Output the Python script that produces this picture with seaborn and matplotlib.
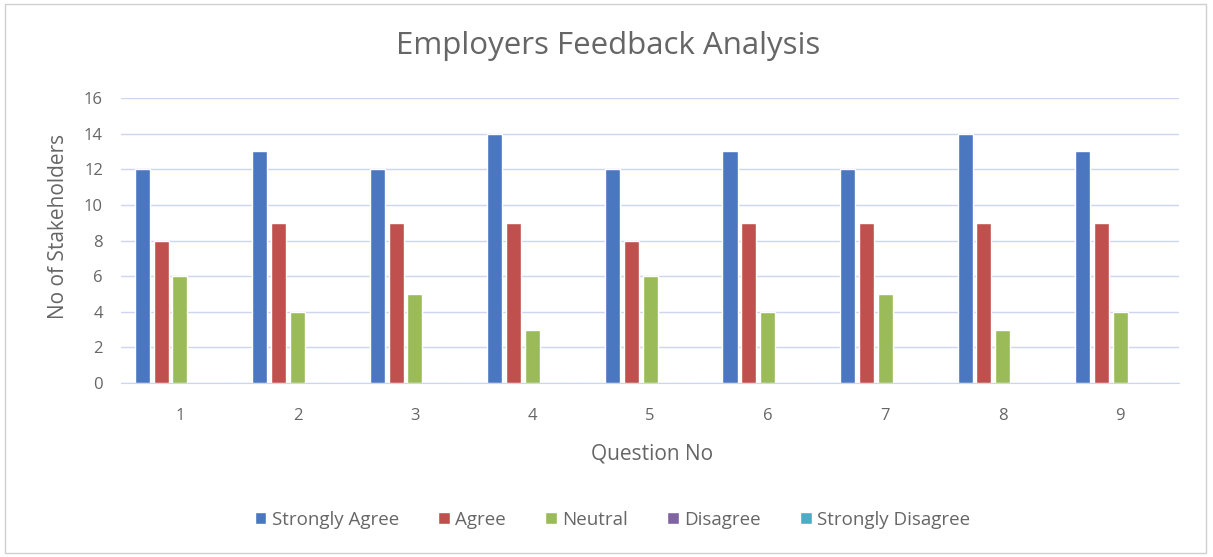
import pandas as pd
import matplotlib.pyplot as plt
import seaborn as sb

# Employers feedback - counts per question
questions = ['1', '2', '3', '4', '5', '6', '7', '8', '9']
strongly_agree = [12, 13, 12, 14, 12, 13, 12, 14, 13]
agree = [8, 9, 9, 9, 8, 9, 9, 9, 9]
neutral = [6, 4, 5, 3, 6, 4, 5, 3, 4]
disagree = [0, 0, 0, 0, 0, 0, 0, 0, 0]
strongly_disagree = [0, 0, 0, 0, 0, 0, 0, 0, 0]

levels = ['Strongly Agree', 'Agree', 'Neutral', 'Disagree', 'Strongly Disagree']
colors = ['#4a77c0', '#c0504d', '#9bbb59', '#8064a2', '#4bacc6']

series = [strongly_agree, agree, neutral, disagree, strongly_disagree]
rows = []
for lvl, vals in zip(levels, series):
    for q, v in zip(questions, vals):
        rows.append({'question': q, 'response': lvl, 'count': v})
df = pd.DataFrame(rows)

sb.set_style('white')
plt.rcParams['font.family'] = ['Open Sans', 'DejaVu Sans']
txt = '#666666'

fig = plt.figure(figsize=(12.13, 5.57), dpi=100)
fig.patch.set_facecolor('white')
ax = fig.add_axes([0.0998, 0.3124, 0.8722, 0.5116])

sb.barplot(data=df, x='question', y='count', hue='response', hue_order=levels,
           palette=colors, width=0.8, gap=0.2, saturation=1, ax=ax, legend=True)

ax.set_ylim(0, 16)
ax.set_yticks(range(0, 17, 2))
ax.set_xlim(-0.5, 8.5)
ax.grid(axis='y', color='#cdd5f0', linewidth=1)
ax.set_axisbelow(True)
for s in ['top', 'right', 'left']:
    ax.spines[s].set_visible(False)
ax.spines['bottom'].set_color('#cdd5f0')
ax.tick_params(axis='both', length=0, labelsize=12, labelcolor=txt)
ax.tick_params(axis='x', pad=18)
ax.tick_params(axis='y', pad=13)

ax.set_xlabel('Question No', fontsize=15, color=txt)
ax.set_ylabel('No of Stakeholders', fontsize=15, color=txt)
ax.xaxis.set_label_coords(0.502, -0.212)
ax.yaxis.set_label_coords(-0.049, 0.55)
fig.text(0.5015, 0.917, 'Employers Feedback Analysis', ha='center', va='center',
         fontsize=22.5, color=txt)

handles, labels = ax.get_legend_handles_labels()
ax.legend_.remove()
fig.legend(handles, labels, loc='center', bbox_to_anchor=(0.505, 0.067), ncol=5,
           frameon=False, fontsize=13.5, labelcolor=txt, handlelength=0.6,
           handleheight=0.6, handletextpad=0.3, columnspacing=2.1)

# thin frame round the whole chart
fig.add_artist(plt.Rectangle((0.004, 0.008), 0.99, 0.985, transform=fig.transFigure,
                             fill=False, edgecolor='#d0d0d0', linewidth=1))

plt.savefig('out.png', dpi=100)
